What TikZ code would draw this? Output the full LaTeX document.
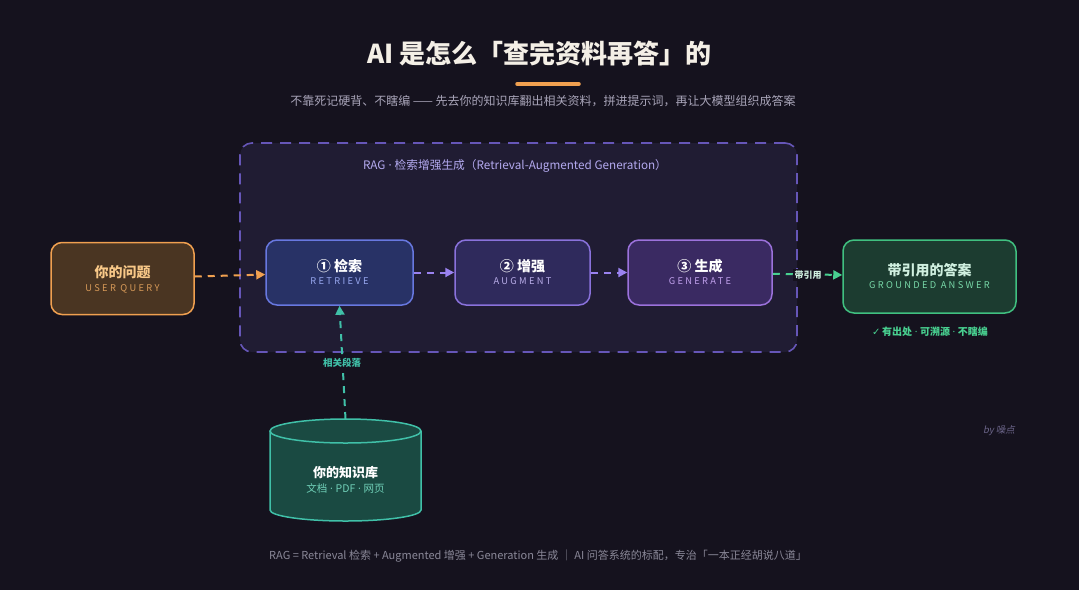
\documentclass[tikz,border=0pt]{standalone}
\usepackage{fontspec}
\setmainfont{Noto Sans CJK SC}
\newfontfamily\spaced[LetterSpace=25]{Noto Sans CJK SC}
\newfontfamily\slantf[FakeSlant=0.2]{Noto Sans CJK SC}
\newfontfamily\symf{DejaVu Sans}
\newfontfamily\latf{Noto Sans}
\newcommand{\dt}{{\latf\ ·\ }}
\usetikzlibrary{arrows.meta}
\definecolor{bg}{HTML}{15121E}
\definecolor{ragfill}{HTML}{201C33}
\definecolor{ragline}{HTML}{6656B8}
\definecolor{ragtext}{HTML}{B4AAF0}
\definecolor{titlec}{HTML}{F4EFE6}
\definecolor{subc}{HTML}{A8A4B8}
\definecolor{footc}{HTML}{8A8898}
\definecolor{byc}{HTML}{6A6488}
\definecolor{orangec}{HTML}{F0A050}
\definecolor{userfill}{HTML}{4A3522}
\definecolor{usert}{HTML}{F8C888}
\definecolor{users}{HTML}{D89A58}
\definecolor{retfill}{HTML}{283266}
\definecolor{retline}{HTML}{6878E0}
\definecolor{rets}{HTML}{98A8F0}
\definecolor{augfill}{HTML}{2F2A5C}
\definecolor{augline}{HTML}{8A72DC}
\definecolor{augs}{HTML}{B8ACE8}
\definecolor{genfill}{HTML}{3A2A62}
\definecolor{genline}{HTML}{9C72DC}
\definecolor{gens}{HTML}{C0A0EC}
\definecolor{ansfill}{HTML}{1C3C30}
\definecolor{ansline}{HTML}{40C080}
\definecolor{anst}{HTML}{D0F0E0}
\definecolor{anss}{HTML}{78D8A8}
\definecolor{greenc}{HTML}{48D090}
\definecolor{purplec}{HTML}{9A82F0}
\definecolor{tealc}{HTML}{40C0A8}
\definecolor{cylfill}{HTML}{1A4A42}
\definecolor{cyls}{HTML}{70D0B8}
\begin{document}
\begin{tikzpicture}[x=1pt,y=-1pt,
  box/.style={rounded corners=11pt, line width=1.5pt, inner sep=0pt},
  maintxt/.style={inner sep=0pt, font=\bfseries\fontsize{14}{16}\selectfont},
  subtxt/.style={inner sep=0pt, font=\spaced\fontsize{9.3}{11}\selectfont},
  flow/.style={line width=2pt, dash pattern=on 7pt off 6pt, -{Triangle[length=9pt,width=9pt]}},
  lbl/.style={inner sep=1.5pt, fill=bg}
]
\fill[bg] (0,0) rectangle (1079,590);
% title
\node[inner sep=0pt, font=\bfseries\fontsize{26}{30}\selectfont, text=titlec] (title) at (539.5,53) {AI 是怎么「查完资料再答」的};
\coordinate (ulA) at (517,84);
\coordinate (ulB) at (579,84);
\draw[orangec, line width=3.5pt, line cap=round] (ulA) -- (ulB);
\node[inner sep=0pt, font=\fontsize{12}{14}\selectfont, text=subc] (subtitle) at (543,101) {不靠死记硬背、不瞎编 —— 先去你的知识库翻出相关资料，拼进提示词，再让大模型组织成答案};
% container
\node[draw=ragline, fill=ragfill, line width=1.6pt, dash pattern=on 11pt off 8pt, rounded corners=12pt, minimum width=557pt, minimum height=209pt, inner sep=0pt] (rag) at (518.5,247.5) {};
\node[inner sep=0pt, font=\fontsize{11.7}{13}\selectfont, text=ragtext] (ragl) at (515,166) {RAG\dt 检索增强生成（Retrieval-Augmented Generation）};
% nodes
\node[box, draw=orangec, fill=userfill, minimum width=143pt, minimum height=72pt] (user) at (122.5,278.5) {};
\node[maintxt, text=usert] (userT) at ([yshift=6pt]user.center) {你的问题};
\node[subtxt, text=users] (userS) at ([yshift=-10pt]user.center) {USER QUERY};

\node[box, draw=retline, fill=retfill, minimum width=147pt, minimum height=65pt] (ret) at (339.5,272.5) {};
\node[maintxt, text=white] (retT) at ([yshift=6pt]ret.center) {① 检索};
\node[subtxt, text=rets] (retS) at ([yshift=-9pt]ret.center) {RETRIEVE};

\node[box, draw=augline, fill=augfill, minimum width=135pt, minimum height=65pt] (aug) at (522.5,272.5) {};
\node[maintxt, text=white] (augT) at ([yshift=6pt]aug.center) {② 增强};
\node[subtxt, text=augs] (augS) at ([yshift=-9pt]aug.center) {AUGMENT};

\node[box, draw=genline, fill=genfill, minimum width=144pt, minimum height=65pt] (gen) at (700,272.5) {};
\node[maintxt, text=white] (genT) at ([yshift=6pt]gen.center) {③ 生成};
\node[subtxt, text=gens] (genS) at ([yshift=-9pt]gen.center) {GENERATE};

\node[box, draw=ansline, fill=ansfill, minimum width=173pt, minimum height=73pt] (ans) at (929.5,276.5) {};
\node[maintxt, text=anst] (ansT) at ([yshift=6.5pt]ans.center) {带引用的答案};
\node[subtxt, text=anss] (ansS) at ([yshift=-8.5pt]ans.center) {GROUNDED ANSWER};
\node[inner sep=0pt, font=\bfseries\fontsize{10}{11}\selectfont, text=greenc] (note) at (930,332) {{\symf ✓}\,有出处\dt 可溯源\dt 不瞎编};

% knowledge base cylinder
\fill[cylfill] (270,431) -- (270,510) arc[start angle=180, end angle=360, x radius=75.5pt, y radius=11pt] -- (421,431) arc[start angle=0, end angle=180, x radius=75.5pt, y radius=12pt] -- cycle;
\draw[tealc, line width=1.5pt] (270,431) -- (270,510) arc[start angle=180, end angle=360, x radius=75.5pt, y radius=11pt] -- (421,431);
\draw[tealc, line width=1.5pt] (345.5,431) ellipse[x radius=75.5pt, y radius=12pt];
\coordinate (kbtop) at (345.5,419);
\node[inner sep=0pt, font=\bfseries\fontsize{13}{15}\selectfont, text=white] (kbT) at (345.5,473) {你的知识库};
\node[inner sep=0pt, font=\fontsize{10.5}{12}\selectfont, text=cyls] (kbS) at (345.5,488) {文档\dt PDF\dt 网页};

% connectors
\draw[flow, orangec] (user) -- (ret);
\draw[flow, purplec] (ret) -- (aug);
\draw[flow, purplec] (aug) -- (gen);
\draw[flow, greenc] (gen) -- (ans);
\node[lbl, font=\bfseries\fontsize{9}{10}\selectfont, text=anst] (cite) at (808,275) {带引用};
\draw[flow, tealc] (kbtop) -- (ret.south);
\node[lbl, font=\bfseries\fontsize{9.5}{10}\selectfont, text=tealc] (para) at (342,363) {相关段落};

% signature and footer
\node[inner sep=0pt, font=\slantf\fontsize{9.5}{10}\selectfont, text=byc] (by) at (999,431) {by 噪点};
\node[inner sep=0pt, font=\fontsize{11}{12}\selectfont, text=footc] (foot) at (538,556) {RAG = Retrieval 检索 + Augmented 增强 + Generation 生成 ｜ AI 问答系统的标配，专治「一本正经胡说八道」};
\end{tikzpicture}
\end{document}
